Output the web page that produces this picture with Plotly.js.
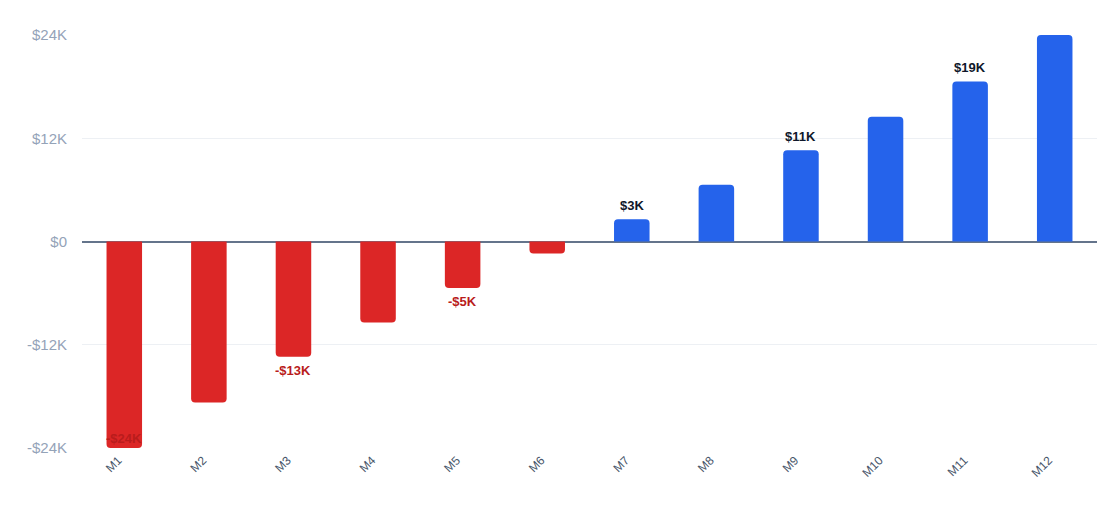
<!DOCTYPE html>
<html>
<head>
<meta charset="utf-8">
<script src="https://cdn.plot.ly/plotly-3.0.1.min.js"></script>
<style>
  html, body { margin: 0; padding: 0; background: #fff; }
  #chart { width: 1120px; height: 531px; }
</style>
</head>
<body>
<div id="chart"></div>
<script>
// Monthly net result, in thousands of dollars.
const months = ['M1', 'M2', 'M3', 'M4', 'M5', 'M6', 'M7', 'M8', 'M9', 'M10', 'M11', 'M12'];
const netK = [-24, -18.7, -13.4, -9.4, -5.4, -1.4, 2.6, 6.6, 10.6, 14.5, 18.6, 24];
// only every other bar carries a label
const barLabels = ['-$24K', '', '-$13K', '', '-$5K', '', '$3K', '', '$11K', '', '$19K', ''];

const yTickVals = [-24, -12, 0, 12, 24];
const yTickText = ['-$24K', '-$12K', '$0', '$12K', '$24K'];

const yLimitK = 24;

const lossColor = '#dc2626';
const gainColor = '#2563eb';
const lossText = '#b91c1c';
const gainText = '#0f172a';

const values = netK.map((v) => v * 1000);

const trace = {
    type: 'bar',
    x: months,
    y: values,
    marker: {
        color: netK.map((v) => (v < 0 ? lossColor : gainColor)),
        cornerradius: 4,
    },
    hoverinfo: 'x+y',
};

// Value labels sit just past the bar end; a bar that reaches the axis
// limit has no room there, so its label is tucked inside the bar end.
const labelGap = 4;
const annotations = [];
months.forEach((m, i) => {
    if (!barLabels[i]) return;
    const v = netK[i];
    const atLimit = Math.abs(v) >= yLimitK;
    const up = (v >= 0) !== atLimit;
    annotations.push({
        x: m,
        y: values[i],
        xref: 'x',
        yref: 'y',
        text: barLabels[i],
        showarrow: false,
        yanchor: up ? 'bottom' : 'top',
        yshift: atLimit ? 0 : (up ? labelGap : -labelGap),
        font: {
            family: 'Liberation Sans, Arial, sans-serif',
            size: 13,
            weight: 'bold',
            color: v < 0 ? lossText : gainText,
        },
    });
});

const layout = {
    width: 1120,
    height: 531,
    paper_bgcolor: '#ffffff',
    plot_bgcolor: '#ffffff',
    font: { family: 'Liberation Sans, Arial, sans-serif', color: '#475569' },
    margin: { l: 82, r: 23, t: 35, b: 83 },
    bargap: 0.58,
    showlegend: false,
    annotations,
    xaxis: {
        type: 'category',
        tickangle: -45,
        tickfont: { size: 12, color: '#475569' },
        showgrid: false,
        showline: false,
        zeroline: false,
        ticks: '',
        ticklabelshift: -6,
        ticklabelstandoff: 2,
    },
    yaxis: {
        range: [-yLimitK * 1000, yLimitK * 1000],
        tickvals: yTickVals.map((v) => v * 1000),
        ticktext: yTickText,
        tickfont: { size: 15, color: '#94a3b8' },
        gridcolor: '#edf0f4',
        gridwidth: 1,
        zeroline: true,
        zerolinecolor: '#64748b',
        zerolinewidth: 2,
        ticks: 'outside',
        ticklen: 11,
        tickcolor: 'rgba(0,0,0,0)',
        fixedrange: true,
    },
};

Plotly.newPlot('chart', [trace], layout, { displayModeBar: false, staticPlot: true });
</script>
</body>
</html>
